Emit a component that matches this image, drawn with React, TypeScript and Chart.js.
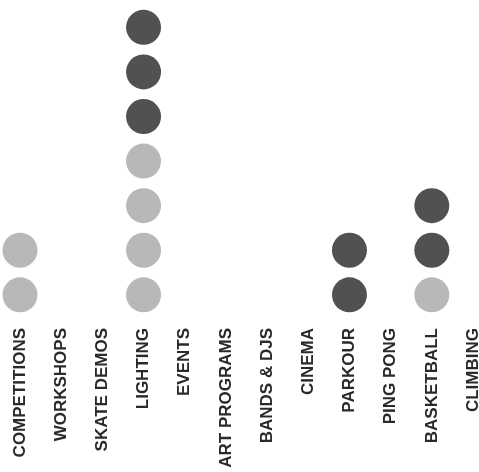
import React, { useEffect, useRef } from "react";
import { Chart, registerables } from "chart.js";

Chart.register(...registerables);

const categories = [
  "COMPETITIONS",
  "WORKSHOPS",
  "SKATE DEMOS",
  "LIGHTING",
  "EVENTS",
  "ART PROGRAMS",
  "BANDS & DJS",
  "CINEMA",
  "PARKOUR",
  "PING PONG",
  "BASKETBALL",
  "CLIMBING",
];
const lightCounts = [2, 0, 0, 4, 0, 0, 0, 0, 0, 0, 1, 0];
const darkCounts = [0, 0, 0, 3, 0, 0, 0, 0, 2, 0, 2, 0];

const LIGHT = "#b8b8b8";
const DARK = "#515151";

export default function App() {
  const ref = useRef<HTMLCanvasElement | null>(null);

  useEffect(() => {
    if (!ref.current) return;
    const lightPts: { x: string; y: number }[] = [];
    const darkPts: { x: string; y: number }[] = [];
    categories.forEach((c, i) => {
      for (let k = 1; k <= lightCounts[i]; k++) lightPts.push({ x: c, y: k });
      for (let k = 1; k <= darkCounts[i]; k++)
        darkPts.push({ x: c, y: lightCounts[i] + k });
    });
    const chart = new Chart(ref.current, {
      type: "line",
      data: {
        labels: categories,
        datasets: [
          {
            data: lightPts,
            showLine: false,
            pointRadius: 17.5,
            pointHoverRadius: 17.5,
            pointBackgroundColor: LIGHT,
            pointBorderWidth: 0,
            borderColor: LIGHT,
            clip: false,
          },
          {
            data: darkPts,
            showLine: false,
            pointRadius: 17.5,
            pointHoverRadius: 17.5,
            pointBackgroundColor: DARK,
            pointBorderWidth: 0,
            borderColor: DARK,
            clip: false,
          },
        ] as any,
      },
      options: {
        animation: false,
        responsive: true,
        maintainAspectRatio: false,
        layout: { autoPadding: false, padding: { left: 20, right: 6, top: 0, bottom: 0 } },
        plugins: { legend: { display: false }, tooltip: { enabled: false } },
        scales: {
          x: {
            type: "category",
            offset: false,
            grid: { display: false, drawTicks: false },
            border: { display: false },
            ticks: {
              autoSkip: false,
              minRotation: 90,
              maxRotation: 90,
              padding: 2,
              color: "#2a2a2a",
              font: { family: "'Liberation Sans', Arial, sans-serif", size: 17, weight: "bold" },
            },
            afterFit: (scale: any) => {
              scale.height = 146;
              scale.paddingLeft = 0;
              scale.paddingRight = 0;
            },
          },
          y: {
            type: "linear",
            display: false,
            min: 0.3,
            max: 7.614,
          },
        },
      } as any,
    });
    return () => chart.destroy();
  }, []);

  return (
    <div style={{ position: "absolute", left: 0, top: 0, width: 479, height: 472, background: "#fff" }}>
      <canvas ref={ref} />
    </div>
  );
}
